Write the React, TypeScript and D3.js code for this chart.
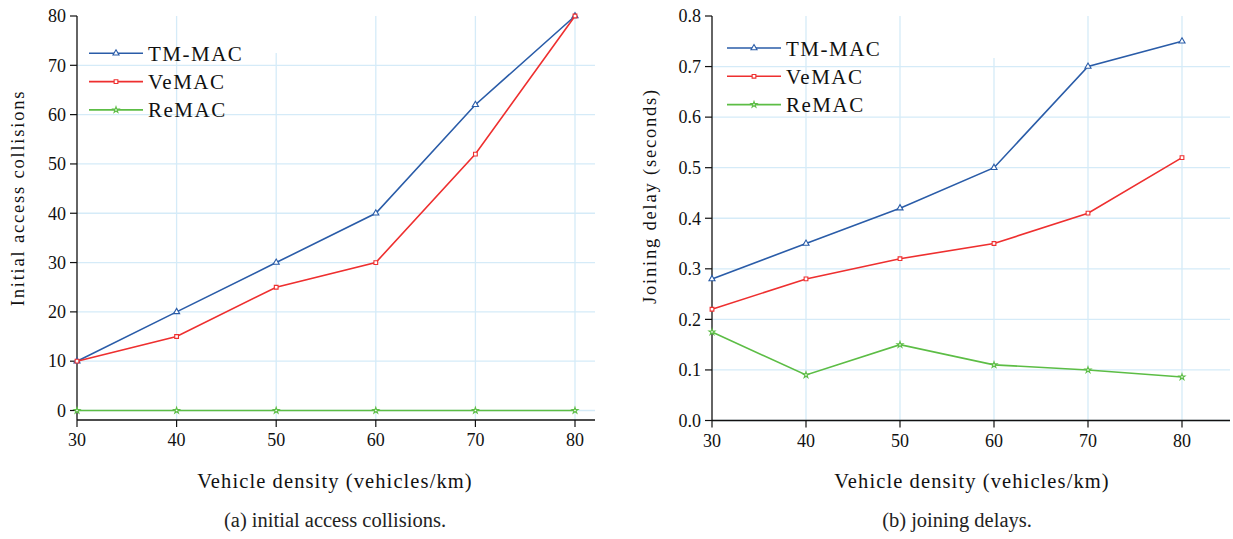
import React, { useRef, useEffect } from 'react';
import * as d3 from 'd3';

const densities = [30, 40, 50, 60, 70, 80];
const seriesNames = ['TM-MAC', 'VeMAC', 'ReMAC'];
const seriesColors = ['#2a5ca8', '#ee2f2f', '#5cbd45'];

const collisionsTM = [10, 20, 30, 40, 62, 80];
const collisionsVe = [10, 15, 25, 30, 52, 80];
const collisionsRe = [0, 0, 0, 0, 0, 0];
const collisionTicks = [0, 10, 20, 30, 40, 50, 60, 70, 80];

const delayTM = [0.28, 0.35, 0.42, 0.5, 0.7, 0.75];
const delayVe = [0.22, 0.28, 0.32, 0.35, 0.41, 0.52];
const delayRe = [0.175, 0.09, 0.15, 0.11, 0.1, 0.086];
const delayTicks = [0, 0.1, 0.2, 0.3, 0.4, 0.5, 0.6, 0.7, 0.8];

const FONT = '"Liberation Serif", "DejaVu Serif", serif';

function drawPanel(svg, o) {
  const g = svg.append('g');
  const x = d3.scaleLinear().domain([30, 80]).range([o.x0, o.x1]);
  const y = d3.scaleLinear().domain([o.yMin, o.yMax]).range([o.yBottom, o.yTop]);
  const axisY = o.axisY;

  // grid
  o.yTicks.slice(0, -1).forEach(t => {
    g.append('line')
      .attr('x1', o.x0).attr('x2', o.xEnd)
      .attr('y1', y(t)).attr('y2', y(t))
      .attr('stroke', '#d5ebf8').attr('stroke-width', 1.3);
  });
  densities.slice(1).forEach(d => {
    g.append('line')
      .attr('x1', x(d)).attr('x2', x(d))
      .attr('y1', d === o.shortGrid ? o.shortTop : y(o.yMax)).attr('y2', axisY)
      .attr('stroke', '#d5ebf8').attr('stroke-width', 1.3);
  });

  // axes
  g.append('line').attr('x1', o.x0).attr('x2', o.x0).attr('y1', y(o.yMax)).attr('y2', axisY)
    .attr('stroke', '#111').attr('stroke-width', 1.3);
  g.append('line').attr('x1', o.x0).attr('x2', o.xEnd).attr('y1', axisY).attr('y2', axisY)
    .attr('stroke', '#111').attr('stroke-width', 1.3);

  o.yTicks.forEach(t => {
    g.append('line').attr('x1', o.x0 - 7).attr('x2', o.x0).attr('y1', y(t)).attr('y2', y(t))
      .attr('stroke', '#111').attr('stroke-width', 1.2);
    g.append('text').attr('x', o.x0 - 11).attr('y', y(t)).attr('dy', '0.35em')
      .attr('text-anchor', 'end').style('font-family', FONT).style('font-size', '18px')
      .attr('fill', '#111').text(o.yFmt(t));
  });
  densities.forEach(d => {
    g.append('line').attr('x1', x(d)).attr('x2', x(d)).attr('y1', axisY).attr('y2', axisY + 7)
      .attr('stroke', '#111').attr('stroke-width', 1.2);
    g.append('text').attr('x', x(d)).attr('y', axisY + 26)
      .attr('text-anchor', 'middle').style('font-family', FONT).style('font-size', '18px')
      .attr('fill', '#111').text(d);
  });

  g.append('text').attr('x', o.xTitleX).attr('y', 488)
    .attr('text-anchor', 'middle').style('font-family', FONT).style('font-size', '20.5px')
    .style('letter-spacing', '1.1px').attr('fill', '#111').text('Vehicle  density (vehicles/km)');

  g.append('text').attr('transform', `translate(${o.yTitleX},${o.yTitleY}) rotate(-90)`)
    .attr('text-anchor', 'middle').style('font-family', FONT).style('font-size', '18.5px')
    .style('letter-spacing', '1.8px').attr('fill', '#111').text(o.yTitle);

  g.append('text').attr('x', o.captionX).attr('y', 527)
    .attr('text-anchor', 'middle').style('font-family', FONT).style('font-size', '20.5px')
    .attr('fill', '#222').text(o.caption);

  // lines
  const line = d3.line().x((d, i) => x(densities[i])).y(d => y(d));
  const tri = d3.symbol().type(d3.symbolTriangle).size(16);
  const sq = d3.symbol().type(d3.symbolSquare).size(14);
  const star = d3.symbol().type(d3.symbolStar).size(11);
  const shapes = [tri, sq, star];

  o.series.forEach((vals, si) => {
    g.append('path').datum(vals).attr('d', line).attr('fill', 'none')
      .attr('stroke', seriesColors[si]).attr('stroke-width', 1.6);
    g.selectAll(null).data(vals).join('path')
      .attr('transform', (d, i) => `translate(${x(densities[i])},${y(d)})`)
      .attr('d', shapes[si]).attr('fill', 'white')
      .attr('stroke', seriesColors[si]).attr('stroke-width', 1.1);
  });

  // legend
  seriesNames.forEach((name, si) => {
    const ly = o.legendY + si * 28.3;
    g.append('line').attr('x1', o.legendX).attr('x2', o.legendX + 54).attr('y1', ly).attr('y2', ly)
      .attr('stroke', seriesColors[si]).attr('stroke-width', 1.6);
    g.append('path').attr('transform', `translate(${o.legendX + 27},${ly})`)
      .attr('d', shapes[si]).attr('fill', 'white')
      .attr('stroke', seriesColors[si]).attr('stroke-width', 1.1);
    g.append('text').attr('x', o.legendX + 59).attr('y', ly).attr('dy', '0.36em')
      .style('font-family', FONT).style('font-size', '21px').style('letter-spacing', '1.5px')
      .attr('fill', '#111').text(name);
  });
}

export default function App() {
  const svgRef = useRef(null);

  useEffect(() => {
    const svg = d3.select(svgRef.current);
    svg.selectAll('*').remove();

    drawPanel(svg, {
      x0: 77, x1: 575, xEnd: 595,
      yMin: 0, yMax: 80, yBottom: 410.5, yTop: 16, axisY: 420,
      yTicks: collisionTicks, yFmt: d3.format('d'),
      series: [collisionsTM, collisionsVe, collisionsRe],
      xTitleX: 335,
      yTitle: 'Initial  access  collisions', yTitleX: 24, yTitleY: 198,
      caption: '(a)  initial access collisions.', captionX: 335,
      legendX: 89, legendY: 53.3, shortGrid: 50, shortTop: 53,
    });

    drawPanel(svg, {
      x0: 712, x1: 1182, xEnd: 1230,
      yMin: 0, yMax: 0.8, yBottom: 420.5, yTop: 16, axisY: 420.5,
      yTicks: delayTicks, yFmt: d3.format('.1f'),
      series: [delayTM, delayVe, delayRe],
      xTitleX: 972,
      yTitle: 'Joining  delay (seconds)', yTitleX: 656, yTitleY: 196,
      caption: '(b)  joining delays.', captionX: 957,
      legendX: 727, legendY: 48, shortGrid: 60, shortTop: 58,
    });
  }, []);

  return (
    <svg ref={svgRef} width={1233} height={539}
      style={{ position: 'absolute', left: 0, top: 0, background: 'white' }} />
  );
}
